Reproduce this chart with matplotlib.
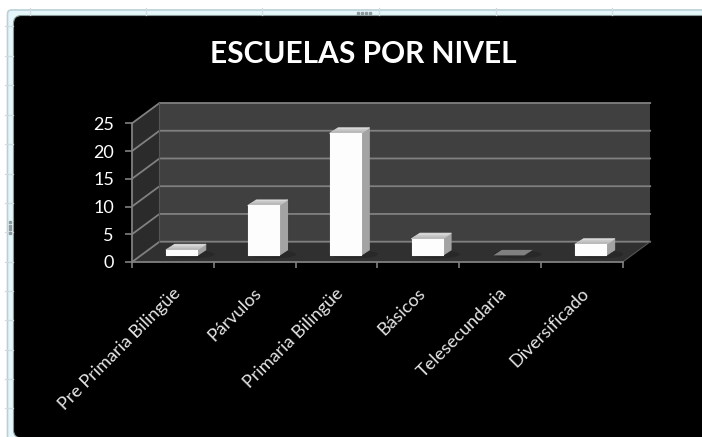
import matplotlib
matplotlib.use("Agg")
import matplotlib.pyplot as plt
from matplotlib.patches import Polygon, FancyBboxPatch, Ellipse
import numpy as np

plt.rcParams['font.family'] = ['Lato', 'DejaVu Sans']

categorias = ["Pre Primaria Bilingüe", "Párvulos", "Primaria Bilingüe",
              "Básicos", "Telesecundaria", "Diversificado"]
escuelas = [1, 9, 22, 3, 0, 2]
yticks = [0, 5, 10, 15, 20, 25]
titulo = "ESCUELAS POR NIVEL"

W, H = 702, 437
fig = plt.figure(figsize=(W/100, H/100), dpi=100, facecolor="white")

# fondo: hoja de excel y marco del grafico (en pixeles)
bg = fig.add_axes([0, 0, 1, 1])
bg.set_xlim(0, W)
bg.set_ylim(H, 0)
bg.axis("off")
bg.add_patch(FancyBboxPatch((7.5, 10), 730, 460, boxstyle="round,pad=0,rounding_size=4",
                            fc="#e4f6f9", ec="#b9d0d8", lw=1.2))
for yy in [26, 56, 85, 115, 144, 174, 203, 232, 262, 291, 320, 350, 379, 408]:
    bg.plot([5, 13], [yy, yy], color="#cfdbe0", lw=0.9)
for xx in [30, 146, 262, 379, 496, 612]:
    bg.plot([xx, xx], [8, 15], color="#cfdbe0", lw=0.9)
bg.add_patch(FancyBboxPatch((13.5, 15.5), 730, 422.5, boxstyle="round,pad=0,rounding_size=8",
                            fc="black", ec="#8a9a9a", lw=0.8))
bg.plot([358, 362, 366, 370], [12.7]*4, "s", color="#8f9a9f", ms=1.6)
bg.plot([10]*4, [222, 226, 229, 233], "s", color="#8f9a9f", ms=1.6)

# plano frontal del eje
x0, x1 = 132, 622.7
y0, y1 = 262, 123.3
ax = fig.add_axes([x0/W, 1-y0/H, (x1-x0)/W, (y0-y1)/H])
ax.set_xlim(-0.5, 5.5)
ax.set_ylim(0, 25)
ax.patch.set_alpha(0)

px = (x1-x0)/6      # pixeles por categoria
py = (y0-y1)/25     # pixeles por unidad
dx = 27.5/px        # profundidad del grafico
dy = 20.3/py
izq, der = -0.5, 5.5

# paredes y piso
ax.add_patch(Polygon([(izq+dx, dy), (der+dx, dy), (der+dx, 25+dy), (izq+dx, 25+dy)],
                     fc="#404040", ec="none", clip_on=False))
ax.add_patch(Polygon([(izq, 0), (izq+dx, dy), (izq+dx, 25+dy), (izq, 25)],
                     fc="#2b2b2b", ec="none", clip_on=False))
ax.add_patch(Polygon([(izq, 0), (der, 0), (der+dx, dy), (izq+dx, dy)],
                     fc="#303030", ec="none", clip_on=False))

lineas = "#808080"
for t in yticks:
    ax.plot([izq, izq+dx, der+dx], [t, t+dy, t+dy], color=lineas, lw=1.3,
            clip_on=False, solid_joinstyle="miter")
ax.plot([izq+dx, izq+dx], [dy, 25+dy], color="#555555", lw=0.8, clip_on=False)
ax.plot([der, der+dx], [0, dy], color="#555555", lw=0.8, clip_on=False)

# barras 3d
ancho = 31/px
off = 8.8/px
base = 6.6/py
bdx = 8.5/px
bdy = 5.5/py
for i, v in enumerate(escuelas):
    a = i + off - ancho/2
    b = a + ancho
    top = base + v
    # sombra
    ax.add_patch(Ellipse(((a+b)/2 + bdx, base + 0.2), ancho*1.55, 1.5,
                         fc="#282828", ec="none", clip_on=False, zorder=2))
    if v == 0:
        ax.add_patch(Polygon([(a, top), (b, top), (b+bdx, top+bdy), (a+bdx, top+bdy)],
                             fc="#808080", ec="none", clip_on=False, zorder=3))
        continue
    ax.add_patch(Polygon([(b, base), (b+bdx, base+bdy), (b+bdx, top+bdy), (b, top)],
                         fc="#a3a3a3", ec="#a3a3a3", lw=0.8, joinstyle="round",
                         clip_on=False, zorder=3))
    # degradado de la tapa
    tapa = [(a, top), (b, top), (b+bdx, top+bdy), (a+bdx, top+bdy)]
    ax.add_patch(Polygon(tapa, fc="#c8c8c8", ec="#c8c8c8", lw=0.8, joinstyle="round",
                         clip_on=False, zorder=3))
    ax.imshow(np.array([[0.86, 0.78, 0.72]]).T, cmap="gray", vmin=0, vmax=1,
              extent=[a, b+bdx, top, top+bdy], aspect="auto", zorder=3,
              clip_path=Polygon(tapa, transform=ax.transData), clip_on=True)
    ax.add_patch(Polygon([(a, base), (b, base), (b, top), (a, top)],
                         fc="#fdfdfd", ec="#fdfdfd", lw=0.8, joinstyle="round",
                         clip_on=False, zorder=4))
ax.set_xlim(-0.5, 5.5)
ax.set_ylim(0, 25)

for s in ["top", "right"]:
    ax.spines[s].set_visible(False)
for s in ["left", "bottom"]:
    ax.spines[s].set_color(lineas)
    ax.spines[s].set_linewidth(1.3)

ax.set_yticks(yticks)
ax.set_xticks(np.arange(-0.5, 6, 1), minor=False)
ax.set_xticklabels([])
ax.tick_params(axis="x", color=lineas, length=4.5, width=1.2, direction="out")
ax.tick_params(axis="y", color=lineas, labelcolor="white", length=5, width=1.2,
               labelsize=13, pad=8)

for i, c in enumerate(categorias):
    ax.annotate(c, (i, 0), xytext=(-1, -23), textcoords="offset pixels", rotation=45,
                rotation_mode="anchor", ha="right", va="top", color="#e6e6e6", fontsize=13)

fig.text(363/W, 1-63/H, titulo, color="white", fontsize=21.5, fontweight="bold",
         ha="center", va="baseline")

fig.savefig("out.png", dpi=100, facecolor=fig.get_facecolor())
